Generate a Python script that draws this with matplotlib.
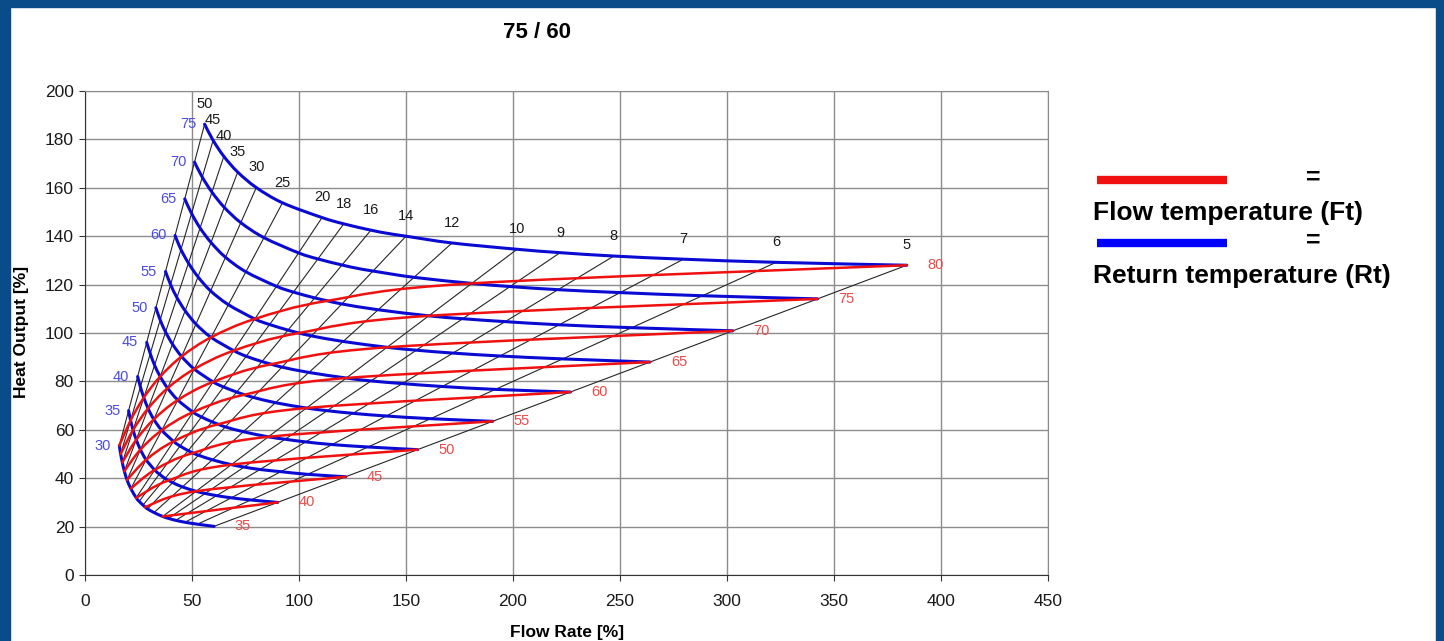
import numpy as np
import matplotlib
matplotlib.use("Agg")
import matplotlib.pyplot as plt
from matplotlib.path import Path
from matplotlib.patches import PathPatch, Rectangle
from matplotlib.lines import Line2D

plt.rcParams['font.family'] = ['Liberation Sans', 'DejaVu Sans']

# --- данные ---
# разность температур (Ft - Rt) в точках таблицы
dt_cols = [5, 6, 7, 8, 9, 10, 12, 14, 15, 16, 18, 20, 25, 30, 35, 40, 45, 50]
# чёрные лучи (подписанные значения dT)
dt_lines = [5, 6, 7, 8, 9, 10, 12, 14, 16, 18, 20, 25, 30, 35, 40, 45, 50]
return_temps = [30, 35, 40, 45, 50, 55, 60, 65, 70, 75]
flow_temps = [35, 40, 45, 50, 55, 60, 65, 70, 75, 80]
nominal_dt = 75 - 60

# теплоотдача [%] по обратной температуре, столбцы = dt_cols
heat_rt30 = [20.1, 21.0, 21.8, 22.6, 23.4, 24.2, 25.8, 27.3, 28.1, 28.9, 30.4, 31.9, 35.7, 39.3, 42.9, 46.5, 50.0, 53.5]
heat_rt35 = [30.0, 31.0, 31.9, 32.8, 33.7, 34.6, 36.4, 38.2, 39.1, 39.9, 41.7, 43.4, 47.6, 51.8, 55.9, 59.9, 63.9, 67.9]
heat_rt40 = [40.6, 41.6, 42.7, 43.6, 44.6, 45.6, 47.6, 49.5, 50.4, 51.4, 53.3, 55.2, 59.8, 64.3, 68.8, 73.3, 77.7, 82.0]
heat_rt45 = [51.8, 52.9, 53.9, 55.0, 56.1, 57.1, 59.2, 61.2, 62.3, 63.3, 65.3, 67.3, 72.3, 77.2, 82.0, 86.7, 91.5, 96.1]
heat_rt50 = [63.5, 64.6, 65.7, 66.8, 67.9, 69.0, 71.2, 73.4, 74.5, 75.6, 77.7, 79.8, 85.1, 90.3, 95.4, 100.4, 105.4, 110.4]
heat_rt55 = [75.6, 76.7, 77.9, 79.1, 80.2, 81.4, 83.7, 85.9, 87.1, 88.2, 90.4, 92.7, 98.2, 103.7, 109.2, 114.6, 120.0, 125.4]
heat_rt60 = [88.0, 89.3, 90.5, 91.7, 92.9, 94.1, 96.5, 98.8, 100.0, 101.2, 103.5, 105.8, 111.7, 117.4, 123.2, 128.9, 134.5, 140.3]
heat_rt65 = [100.9, 102.2, 103.4, 104.7, 105.9, 107.1, 109.6, 112.0, 113.3, 114.5, 116.9, 119.3, 125.3, 131.3, 137.4, 143.4, 149.4, 155.4]
heat_rt70 = [114.1, 115.4, 116.7, 117.9, 119.2, 120.5, 123.0, 125.6, 126.8, 128.1, 130.6, 133.1, 139.4, 145.6, 151.9, 158.2, 164.4, 170.6]
heat_rt75 = [128.0, 129.2, 130.5, 131.8, 133.2, 134.6, 137.2, 140.0, 141.2, 142.5, 145.1, 147.7, 153.8, 160.1, 166.5, 173.0, 179.6, 186.3]

heat = {30: heat_rt30, 35: heat_rt35, 40: heat_rt40, 45: heat_rt45, 50: heat_rt50,
        55: heat_rt55, 60: heat_rt60, 65: heat_rt65, 70: heat_rt70, 75: heat_rt75}

BLUE = '#0a0ad2'
RED = '#f01010'
BLUE_TXT = '#4a4ae6'
RED_TXT = '#f04848'
GRID = '#8c8c8c'
FRAME = '#0a4c8a'


def point(rt, dt):
    q = heat[rt][dt_cols.index(dt)]
    return q * nominal_dt / dt, q   # расход [%], теплоотдача [%]


def smooth_path(xs, ys):
    # сглаженная линия как в Excel (Catmull-Rom -> Bezier)
    pts = np.column_stack([xs, ys])
    if len(pts) < 3:
        return Path(pts)
    ext = np.vstack([pts[0], pts, pts[-1]])
    verts = [pts[0]]; codes = [Path.MOVETO]
    for i in range(len(pts) - 1):
        p0, p1, p2, p3 = ext[i], ext[i + 1], ext[i + 2], ext[i + 3]
        verts += [p1 + (p2 - p0) / 6, p2 - (p3 - p1) / 6, p2]
        codes += [Path.CURVE4] * 3
    return Path(verts, codes)


fig = plt.figure(figsize=(14.44, 6.41), dpi=100)
ax = fig.add_axes([85 / 1444, 1 - 575 / 641, (1048 - 85) / 1444, (575 - 91) / 641])

# чёрные лучи dT = const
for dt in dt_lines:
    x0, y0 = point(30, dt)
    x1, y1 = point(75, dt)
    ax.plot([x0, x1], [y0, y1], color='#262626', lw=0.8, zorder=3)
    ax.annotate(str(dt), (x1, y1), xytext=(0, 14.5), textcoords='offset points',
                ha='center', va='center', fontsize=10.5, color='#1a1a1a', zorder=6)

# синие линии - обратная температура
for rt in return_temps:
    pts = [point(rt, dt) for dt in dt_cols]
    xs = [p[0] for p in pts]; ys = [p[1] for p in pts]
    ax.add_patch(PathPatch(smooth_path(xs, ys), fill=False, edgecolor=BLUE, lw=2.2,
                           capstyle='round', zorder=4))
    ax.annotate(str(rt), (xs[-1], ys[-1]), xytext=(-6, 0), textcoords='offset points',
                ha='right', va='center', fontsize=10.5, color=BLUE_TXT, zorder=6)

# красные линии - температура подачи
for ft in flow_temps:
    pts = [point(ft - dt, dt) for dt in dt_cols if ft - dt >= 30 and (ft - dt) in heat]
    xs = [p[0] for p in pts]; ys = [p[1] for p in pts]
    if len(pts) > 1:
        ax.add_patch(PathPatch(smooth_path(xs, ys), fill=False, edgecolor=RED, lw=1.8,
                               capstyle='round', zorder=5))
    ax.annotate(str(ft), (xs[0], ys[0]), xytext=(15, 0), textcoords='offset points',
                ha='left', va='center', fontsize=10.5, color=RED_TXT, zorder=6)

ax.set_xlim(0, 450)
ax.set_ylim(0, 200)
ax.set_xticks(np.arange(0, 451, 50))
ax.set_yticks(np.arange(0, 201, 20))
ax.grid(True, color=GRID, lw=1)
ax.set_axisbelow(True)
ax.tick_params(direction='out', length=4.5, color='#333333', labelsize=12.5, labelcolor='#1a1a1a')
ax.tick_params(axis='y', pad=3.5)
ax.tick_params(axis='x', pad=9)
for side in ['top', 'right']:
    ax.spines[side].set_color(GRID)
for side in ['left', 'bottom']:
    ax.spines[side].set_color('#333333')

fig.text(537 / 1444, 1 - 33 / 641, '75 / 60', ha='center', va='center', fontsize=16, fontweight='bold')
fig.text(567 / 1444, 1 - 632 / 641, 'Flow Rate [%]', ha='center', va='center', fontsize=12.5, fontweight='bold')
fig.text(22 / 1444, 1 - 332 / 641, 'Heat Output [%]', ha='center', va='center', rotation=90,
         fontsize=12.5, fontweight='bold')

# легенда справа
for yb, ye, yt, col, txt in [(180, 178, 213, RED, 'Flow temperature (Ft)'),
                             (243, 241, 276, '#0000ff', 'Return temperature (Rt)')]:
    fig.add_artist(Line2D([1097 / 1444, 1227 / 1444], [1 - yb / 641] * 2, color=col, lw=6,
                          solid_capstyle='butt'))
    fig.text(1313 / 1444, 1 - ye / 641, '=', ha='center', va='center', fontsize=18, fontweight='bold')
    fig.text(1093 / 1444, 1 - yt / 641, txt, ha='left', va='center', fontsize=19, fontweight='bold')

# синяя рамка слайда
for r in [(0, 0, 10 / 1444, 1), (0, 1 - 7 / 641, 1, 7 / 641), (1 - 8 / 1444, 0, 8 / 1444, 1)]:
    fig.add_artist(Rectangle(r[:2], r[2], r[3], transform=fig.transFigure, color=FRAME, zorder=10))

fig.savefig('out.png', dpi=100)
